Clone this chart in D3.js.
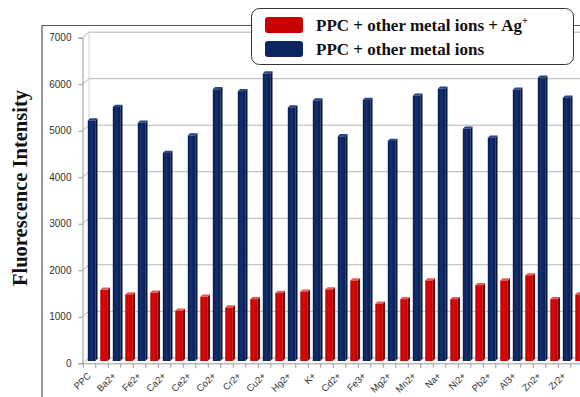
<!DOCTYPE html>
<html>
<head>
<meta charset="utf-8">
<script src="https://cdn.jsdelivr.net/npm/d3@7"></script>
<style>
  html, body { margin: 0; padding: 0; background: #fff; overflow: hidden; }
  svg { display: block; }
</style>
</head>
<body>
<svg id="chart" width="580" height="397"></svg>
<script>
// Metal ions tested against the PPC probe
const categories = ["PPC", "Ba2+", "Fe2+", "Ca2+", "Ce2+", "Co2+", "Cr2+", "Cu2+", "Hg2+", "K+",
                    "Cd2+", "Fe3+", "Mg2+", "Mn2+", "Na+", "Ni2+", "Pb2+", "Al3+", "Zn2+", "Zr2+"];
// PPC + other metal ions
const ionValues = [5170, 5460, 5120, 4470, 4850, 5840, 5800, 6180, 5450, 5600,
                   4830, 5610, 4730, 5700, 5850, 4990, 4800, 5830, 6090, 5660];
// PPC + other metal ions + Ag+
const ionAgValues = [1530, 1430, 1470, 1080, 1380, 1150, 1330, 1460, 1490, 1540,
                     1730, 1230, 1330, 1730, 1330, 1630, 1730, 1840, 1330, 1430];
const yTicks = [0, 1000, 2000, 3000, 4000, 5000, 6000, 7000];

const svg = d3.select("#chart");

// depth offset of the back wall (pseudo 3-D)
const wallDx = 6.5, wallDy = -5.5;

// front axis scale and bar scale (bars sit mid-depth)
const yAxisScale = d3.scaleLinear().domain([0, 7000]).range([363.3, 37.7]);
const yBar = d3.scaleLinear().domain([0, 7000]).range([361, 35.3]);

// every ion gets two slots: blue then red
const slots = d3.range(categories.length * 2);
const x = d3.scaleBand().domain(slots).range([83.3, 583.3]).padding(0);
const bw = x.bandwidth();

// outer frame
svg.append("path")
  .attr("d", "M42,397 L42,25.5 L580,25.5")
  .attr("fill", "none").attr("stroke", "#555").attr("stroke-width", 1.2);

// gridlines: diagonal side wall + horizontal back wall
const grid = svg.append("g");
yTicks.forEach(t => {
  const yf = yAxisScale(t);
  grid.append("path")
    .attr("d", `M82.5,${yf} L${82.5 + wallDx},${yf + wallDy} L580,${yf + wallDy}`)
    .attr("fill", "none").attr("stroke", "#b4b4b4").attr("stroke-width", 1);
});
// back wall left edge
grid.append("line")
  .attr("x1", 82.5 + wallDx).attr("x2", 82.5 + wallDx)
  .attr("y1", yAxisScale(7000) + wallDy).attr("y2", yAxisScale(0) + wallDy)
  .attr("stroke", "#d0d0d0");

// y axis
const yAxis = d3.axisLeft(yAxisScale).tickValues(yTicks).tickSize(4).tickPadding(7).tickFormat(d3.format("d"));
const yg = svg.append("g").attr("transform", "translate(82.5,0)").call(yAxis);
yg.select(".domain").attr("stroke", "#999");
yg.selectAll(".tick line").attr("stroke", "#999");
yg.selectAll(".tick text")
  .attr("font-family", "'Liberation Sans', Arial, sans-serif")
  .attr("font-size", 10).attr("fill", "#333");

// floor front edge and slot ticks
const xAxis = d3.axisBottom(x).tickValues([]).tickSize(0);
const xg = svg.append("g").attr("transform", `translate(0,${yAxisScale(0)})`).call(xAxis);
xg.select(".domain").attr("stroke", "#999");
const tickPos = d3.range(slots.length + 1).map(i => x.range()[0] + i * bw);
xg.selectAll(".slot-tick").data(tickPos).join("line")
  .attr("class", "slot-tick")
  .attr("x1", d => d).attr("x2", d => d)
  .attr("y1", 0).attr("y2", 4.5)
  .attr("stroke", "#999");

// gradients for bar fronts
const defs = svg.append("defs");
function grad(id, edge, mid) {
  const g = defs.append("linearGradient").attr("id", id)
    .attr("x1", "0%").attr("x2", "100%").attr("y1", "0%").attr("y2", "0%");
  g.append("stop").attr("offset", "0%").attr("stop-color", edge);
  g.append("stop").attr("offset", "45%").attr("stop-color", mid);
  g.append("stop").attr("offset", "100%").attr("stop-color", edge);
}
grad("gBlue", "#081c52", "#12306f");
grad("gRed", "#b80000", "#dc0a0a");

const seriesStyle = {
  blue: { front: "url(#gBlue)", side: "#05143c", top: "#2a4585" },
  red:  { front: "url(#gRed)",  side: "#850000", top: "#e65a5a" }
};

const barData = [];
categories.forEach((c, i) => {
  barData.push({ slot: 2 * i, value: ionValues[i], s: "blue" });
  barData.push({ slot: 2 * i + 1, value: ionAgValues[i], s: "red" });
});

const dX = 2.2, dY = -2.2, frontW = bw * 0.6, frontOff = bw * 0.36;
const bars = svg.append("g").selectAll("g").data(barData).join("g");
bars.each(function(d) {
  const g = d3.select(this);
  const x0 = x(d.slot) + frontOff, x1 = x0 + frontW;
  const yt = yBar(d.value), yb = yBar(0);
  const st = seriesStyle[d.s];
  g.append("path")
    .attr("d", `M${x1},${yt} L${x1 + dX},${yt + dY} L${x1 + dX},${yb + dY} L${x1},${yb} Z`)
    .attr("fill", st.side);
  g.append("path")
    .attr("d", `M${x0},${yt} L${x1},${yt} L${x1 + dX},${yt + dY} L${x0 + dX},${yt + dY} Z`)
    .attr("fill", st.top);
  g.append("rect")
    .attr("x", x0).attr("y", yt).attr("width", frontW).attr("height", yb - yt)
    .attr("fill", st.front);
});

// category labels, rotated
svg.append("g").selectAll("text").data(categories).join("text")
  .attr("transform", (d, i) => `translate(${x(2 * i) + bw / 2 + 2},${yAxisScale(0) + 13}) rotate(-45)`)
  .attr("text-anchor", "end")
  .attr("font-family", "'Liberation Sans', Arial, sans-serif")
  .attr("font-size", 9.5).attr("fill", "#333")
  .text(d => d);

// y axis title
svg.append("text")
  .attr("transform", "translate(27,188) rotate(-90)")
  .attr("text-anchor", "middle")
  .attr("font-family", "'Liberation Serif', 'Times New Roman', serif")
  .attr("font-weight", "bold").attr("font-size", 20.5).attr("fill", "#111")
  .text("Fluorescence Intensity");

// legend
const legend = svg.append("g");
legend.append("rect")
  .attr("x", 251.5).attr("y", 8.5).attr("width", 322).attr("height", 56).attr("rx", 8)
  .attr("fill", "#fff").attr("stroke", "#333").attr("stroke-width", 1);
const legendItems = [
  { color: "#c80000", y: 17, label: "PPC + other metal ions + Ag", sup: "+" },
  { color: "#0c2462", y: 41, label: "PPC + other metal ions", sup: null }
];
legendItems.forEach(it => {
  legend.append("rect")
    .attr("x", 265).attr("y", it.y).attr("width", 38).attr("height", 16).attr("rx", 3)
    .attr("fill", it.color);
  const t = legend.append("text")
    .attr("x", 316).attr("y", it.y + 14)
    .attr("font-family", "'Liberation Serif', 'Times New Roman', serif")
    .attr("font-weight", "bold").attr("font-size", 17).attr("fill", "#111");
  t.append("tspan").text(it.label);
  if (it.sup) t.append("tspan").attr("font-size", 10).attr("dy", -7).text(it.sup);
});
</script>
</body>
</html>
